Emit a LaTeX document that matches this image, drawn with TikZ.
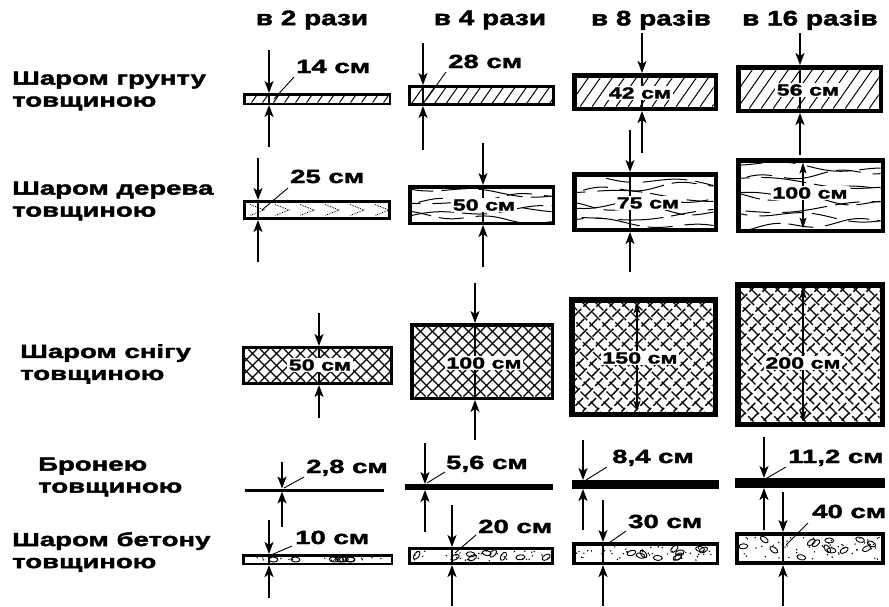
\documentclass[tikz,border=0pt]{standalone}
\usepackage{fontspec}
\setmainfont{Liberation Sans}
\newfontfamily\lblf[FakeStretch=1.45,FakeBold=2]{Liberation Sans}
\newfontfamily\hdrf[FakeStretch=1.33,FakeBold=2]{Liberation Sans}
\usetikzlibrary{arrows.meta}

\tikzset{
  dimline/.style={line width=1.8pt},
  dimarr/.style={line width=1.8pt,-{Stealth[length=12pt,width=9pt,inset=3pt]}},
  indim/.style={line width=1.2pt,{Stealth[length=11pt,width=7pt,inset=2.5pt]}-{Stealth[length=11pt,width=7pt,inset=2.5pt]}},
  leader/.style={line width=0.9pt},
  outlbl/.style={font=\lblf\bfseries\fontsize{19}{21}\selectfont,inner sep=0pt,anchor=base west},
  inlbl/.style={font=\lblf\bfseries\fontsize{16}{18}\selectfont,fill=white,inner sep=1.5pt},
  hdr/.style={font=\hdrf\bfseries\fontsize{21}{23}\selectfont,inner sep=0pt},
  rowlbl/.style={font=\lblf\bfseries\fontsize{19}{22}\selectfont,align=left,anchor=west,inner sep=0pt},
  soilline/.style={line width=1pt},
  snowA/.style={line width=1.3pt},
  snowB/.style={line width=1.4pt,dash pattern=on 11pt off 3pt},
  woodline/.style={line width=1pt,dash pattern=on 45pt off 8pt on 25pt off 12pt},
  armor/.style={fill=black}
}

\newcommand\LayerBorder[5]{\draw[line width=#5pt] ({#1+#5/2},{#2+#5/2}) rectangle ({#3-#5/2},{#4-#5/2});}
\newcommand\OutDim[5]{%
  \draw[dimline] (#1,#3) -- (#1,#4);
  \draw[dimarr] (#1,#2) -- (#1,#3);
  \draw[dimarr] (#1,#5) -- (#1,#4);}
\newcommand\InDim[3]{\draw[indim] (#1,#2) -- (#1,#3);}

\newcommand\SoilTex[5]{\begin{scope}\clip (#1,#2) rectangle (#3,#4);
  \pgfmathtruncatemacro\kmax{((#3-#1)+(#4-#2))/#5+2}
  \foreach \k in {0,...,\kmax}{\draw[soilline] ({#1+\k*#5-(#4-#2)*0.7},#4) -- ++({(#4-#2)*0.7},{-(#4-#2)});}
\end{scope}}

\newcommand\SnowTex[6]{\begin{scope}\clip (#1,#2) rectangle (#3,#4);
  \pgfmathtruncatemacro\kmax{((#3-#1)+(#4-#2))/#5+2}
  \foreach \k in {0,...,\kmax}{
    \draw[#6] ({#1+\k*#5-(#4-#2)},#2) -- ++({#4-#2},{#4-#2});
    \draw[#6,dash phase=5pt] ({#1+\k*#5},#2) -- ++({-(#4-#2)},{#4-#2});}
\end{scope}}

\newcommand\WoodTex[6]{\begin{scope}\clip (#1,#2) rectangle (#3,#4);
  \foreach \i in {1,...,#5}{
    \pgfmathsetmacro\yy{#2+(#4-#2)*(\i-0.5)/#5}
    \pgfmathsetmacro\ph{23*\i}
    \pgfmathsetmacro\fr{2.5+mod(\i,3)}
    \pgfmathsetmacro\sl{0.06*(mod(\i,2)*2-1)}
    \draw[woodline,dash phase=\ph] plot[domain=#1:#3,samples=30,smooth] (\x,{\yy+#6*sin(\fr*\x+47*\i)+\sl*(\x-(#1+#3)/2)});}
\end{scope}}

\newcommand\ConcTex[8]{\begin{scope}\clip (#1,#2) rectangle (#3,#4);
  \pgfmathsetseed{#7}
  \foreach \i in {1,...,#5}{
    \pgfmathsetmacro\px{#1+4+rnd*(#3-#1-8)}
    \pgfmathsetmacro\py{#2+3+rnd*max(#4-#2-6,0)}
    \pgfmathsetmacro\ra{(rnd-0.5)*#8}
    \draw[line width=0.9pt,rotate around={\ra:(\px,\py)}] (\px,\py) ellipse[x radius=4.5pt,y radius=2.5pt];}
  \foreach \i in {1,...,#6}{
    \pgfmathsetmacro\px{#1+1+rnd*(#3-#1-2)}
    \pgfmathsetmacro\py{#2+1+rnd*(#4-#2-2)}
    \fill (\px,\py) circle[radius=0.8pt];}
\end{scope}}

\begin{document}
\begin{tikzpicture}[x=1pt,y=-1pt]
\fill[white] (0,0) rectangle (889,606);
\useasboundingbox (0,0) rectangle (889,606);

% headers
\node[hdr] (h1) at (312,20) {в 2 рази};
\node[hdr] (h2) at (490,20) {в 4 рази};
\node[hdr] (h3) at (651,20) {в 8 разів};
\node[hdr] (h4) at (810,20) {в 16 разів};

% row labels
\node[rowlbl] (r1) at (12,91) {Шаром грунту\\товщиною};
\node[rowlbl] (r2) at (12,201) {Шаром дерева\\товщиною};
\node[rowlbl] (r3) at (20,364) {Шаром снігу\\товщиною};
\node[rowlbl] (r4) at (38,477) {Бронею\\товщиною};
\node[rowlbl] (r5) at (12,552) {Шаром бетону\\товщиною};

% ---------- row 1: soil ----------
\SoilTex{245.5}{95.5}{388.5}{102.5}{11}
\OutDim{269}{50}{93}{105}{147}
\LayerBorder{243}{93}{391}{105}{2.5}
\coordinate (a11) at (274,99); \coordinate (b11) at (294,77);
\draw[leader] (a11) -- (b11);
\node[outlbl] (l11) at (296,73) {14 см};

\SoilTex{411}{88}{552}{103}{11.5}
\OutDim{423}{43}{85}{106}{150}
\LayerBorder{408}{85}{555}{106}{3}
\coordinate (a12) at (426,100); \coordinate (b12) at (446,72);
\draw[leader] (a12) -- (b12);
\node[outlbl] (l12) at (448,68) {28 см};

\SoilTex{576.5}{77.5}{713.5}{106.5}{12}
\OutDim{642}{33}{73}{111}{153}
\node[inlbl] (l13) at (640,93) {42 см};
\LayerBorder{572}{73}{718}{111}{4.5}

\SoilTex{740.5}{69.5}{878.5}{108.5}{12}
\OutDim{800}{33}{65}{113}{155}
\node[inlbl] (l14) at (808,90) {56 см};
\LayerBorder{736}{65}{883}{113}{4.5}

% ---------- row 2: wood ----------
\begin{scope}
\clip (246,203) rectangle (388,217);
\foreach \xx in {250,275,...,380}{
  \draw[line width=0.8pt,densely dotted] (\xx,204.5) -- (\xx+14,210) -- (\xx,215.5);}
\end{scope}
\OutDim{258}{158}{200}{220}{262}
\LayerBorder{243}{200}{391}{220}{3}
\coordinate (a21) at (262,210); \coordinate (b21) at (288,188);
\draw[leader] (a21) -- (b21);
\node[outlbl] (l21) at (290,183) {25 см};

\WoodTex{411.5}{188.5}{551.5}{221.5}{5}{2.5}
\OutDim{483}{143}{185}{225}{267}
\node[inlbl] (l22) at (484,205) {50 см};
\LayerBorder{408}{185}{555}{225}{3.5}

\WoodTex{576.5}{176.5}{713.5}{227.5}{7}{3}
\OutDim{630}{130}{172}{232}{272}
\node[inlbl] (l23) at (648,203) {75 см};
\LayerBorder{572}{172}{718}{232}{4.5}

\WoodTex{740.5}{162.5}{880.5}{228.5}{8}{3}
\InDim{803}{162.5}{228.5}
\node[inlbl] (l24) at (810,193) {100 см};
\LayerBorder{736}{158}{885}{233}{4.5}

% ---------- row 3: snow ----------
\SnowTex{245}{349}{390}{382}{12}{snowA}
\OutDim{319}{313}{346}{385}{418}
\node[inlbl] (l31) at (320,365) {50 см};
\LayerBorder{242}{346}{393}{385}{3}

\SnowTex{413.5}{326.5}{550.5}{396.5}{12}{snowA}
\OutDim{475}{283}{323}{400}{440}
\node[inlbl] (l32) at (484,363) {100 см};
\LayerBorder{410}{323}{554}{400}{3.5}

\SnowTex{574.5}{302.5}{712.5}{411.5}{13}{snowB}
\InDim{637}{302.5}{411.5}
\node[inlbl] (l33) at (640,358) {150 см};
\LayerBorder{569}{297}{718}{417}{5.5}

\SnowTex{740.5}{287.5}{879.5}{421.5}{13}{snowB}
\InDim{803}{287.5}{421.5}
\node[inlbl] (l34) at (803,363) {200 см};
\LayerBorder{735}{282}{885}{427}{5.5}

% ---------- row 4: armor ----------
\fill[armor] (245,488.5) rectangle (384,491.5);
\OutDim{282}{462}{488.5}{491.5}{527}
\coordinate (a41) at (284,488); \coordinate (b41) at (304,477);
\draw[leader] (a41) -- (b41);
\node[outlbl] (l41) at (306,473) {2,8 см};

\fill[armor] (405,484) rectangle (553,490);
\OutDim{425}{443}{484}{490}{532}
\coordinate (a42) at (427,483); \coordinate (b42) at (445,472);
\draw[leader] (a42) -- (b42);
\node[outlbl] (l42) at (446,469) {5,6 см};

\fill[armor] (572,480) rectangle (719,489);
\OutDim{583}{440}{480}{489}{530}
\coordinate (a43) at (586,480); \coordinate (b43) at (607,467);
\draw[leader] (a43) -- (b43);
\node[outlbl] (l43) at (612,463) {8,4 см};

\fill[armor] (735,478) rectangle (885,488);
\OutDim{764}{437}{478}{488}{530}
\coordinate (a44) at (767,478); \coordinate (b44) at (786,467);
\draw[leader] (a44) -- (b44);
\node[outlbl] (l44) at (788,463) {11,2 см};

% ---------- row 5: concrete ----------
\ConcTex{244.5}{556.5}{390.5}{562.5}{8}{20}{11}{20}
\OutDim{269}{520}{554}{565}{598}
\LayerBorder{242}{554}{393}{565}{2.5}
\coordinate (a51) at (271,555); \coordinate (b51) at (292,546);
\draw[leader] (a51) -- (b51);
\node[outlbl] (l51) at (295,544) {10 см};

\ConcTex{411}{550}{551}{562}{9}{35}{23}{120}
\OutDim{452}{505}{547}{565}{606}
\LayerBorder{408}{547}{554}{565}{3}
\coordinate (a52) at (455,553); \coordinate (b52) at (476,535);
\draw[leader] (a52) -- (b52);
\node[outlbl] (l52) at (478,533) {20 см};

\ConcTex{575.5}{545.5}{715.5}{561.5}{10}{45}{37}{120}
\OutDim{603}{500}{542}{565}{606}
\LayerBorder{572}{542}{719}{565}{3.5}
\coordinate (a53) at (606,545); \coordinate (b53) at (626,531);
\draw[leader] (a53) -- (b53);
\node[outlbl] (l53) at (628,528) {30 см};

\ConcTex{739}{536}{881}{561}{13}{55}{41}{120}
\OutDim{783}{492}{532}{565}{606}
\LayerBorder{735}{532}{885}{565}{4}
\coordinate (a54) at (786,545); \coordinate (b54) at (808,523);
\draw[leader] (a54) -- (b54);
\node[outlbl] (l54) at (812,518) {40 см};
\end{tikzpicture}
\end{document}
